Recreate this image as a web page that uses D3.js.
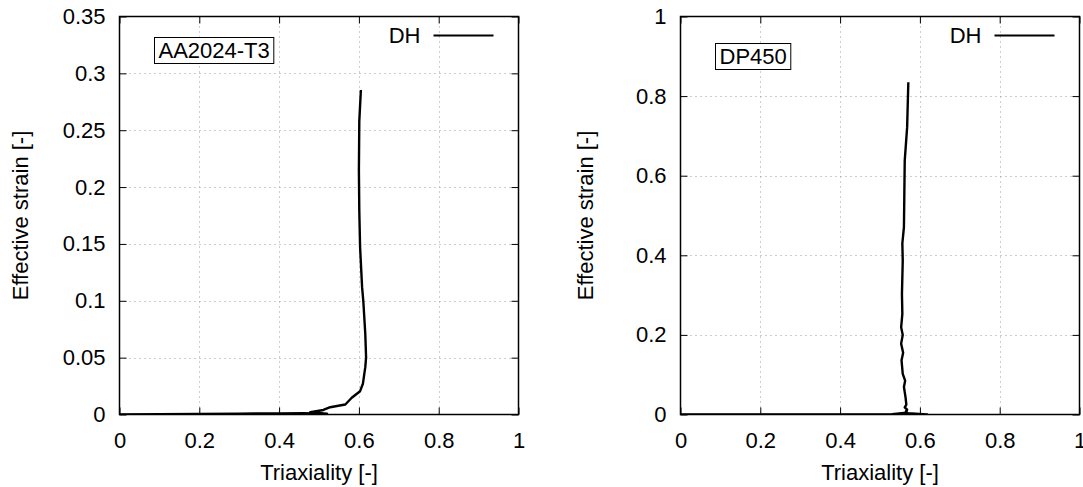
<!DOCTYPE html>
<html><head><meta charset="utf-8">
<script src="https://cdn.jsdelivr.net/npm/d3@7"></script>
<style>body{margin:0;background:#fff}text{font-family:"Liberation Sans",Arial,Helvetica,sans-serif;fill:#000}</style>
</head><body><svg id="c" width="1083" height="487"></svg>
<script>
// ---- data ----
const xTicks = [0, 0.2, 0.4, 0.6, 0.8, 1];
const yTicksA = [0, 0.05, 0.1, 0.15, 0.2, 0.25, 0.3, 0.35];
const yTicksB = [0, 0.2, 0.4, 0.6, 0.8, 1];
const xLabels = ["0", "0.2", "0.4", "0.6", "0.8", "1"];
const yLabelsA = ["0", "0.05", "0.1", "0.15", "0.2", "0.25", "0.3", "0.35"];
const yLabelsB = ["0", "0.2", "0.4", "0.6", "0.8", "1"];
const seriesName = "DH";
const materialA = "AA2024-T3";
const materialB = "DP450";
// triaxiality, effective strain
const triaxA = [0, 0.1, 0.2, 0.3, 0.4, 0.46, 0.52, 0.49, 0.478, 0.511, 0.528, 0.545, 0.566, 0.582, 0.603, 0.610, 0.616, 0.618, 0.616, 0.611, 0.608, 0.603, 0.601, 0.600, 0.601, 0.605];
const strainA = [0, 0.0003, 0.0005, 0.0008, 0.001, 0.0012, 0.0008, 0.0015, 0.002, 0.004, 0.0064, 0.0075, 0.0088, 0.0147, 0.0205, 0.027, 0.0416, 0.05, 0.071, 0.1, 0.112, 0.147, 0.179, 0.2145, 0.258, 0.2854];
const triaxB = [0, 0.2, 0.4, 0.53, 0.56, 0.6, 0.618, 0.57, 0.565, 0.568, 0.562, 0.566, 0.564, 0.560, 0.563, 0.557, 0.554, 0.558, 0.553, 0.557, 0.553, 0.556, 0.555, 0.557, 0.556, 0.560, 0.561, 0.562, 0.565, 0.568, 0.571];
const strainB = [0, 0, 0, 0.001, 0.004, 0.001, 0, 0.003, 0.008, 0.012, 0.018, 0.025, 0.043, 0.069, 0.085, 0.102, 0.136, 0.155, 0.178, 0.2, 0.219, 0.253, 0.303, 0.387, 0.43, 0.471, 0.555, 0.638, 0.68, 0.722, 0.835];

const svg = d3.select("#c");
const FS = 22;

function panel(o) {
  const g = svg.append("g");
  const x = d3.scaleLinear().domain([0, 1]).range([o.left, o.right]);
  const y = d3.scaleLinear().domain([0, o.ymax]).range([o.bottom, o.top]);
  const clipId = "clip" + o.id;
  g.append("clipPath").attr("id", clipId).append("rect")
    .attr("x", o.left).attr("y", o.top).attr("width", o.right - o.left).attr("height", o.bottom - o.top);
  // grid
  const grid = g.append("g").attr("stroke", "#9a9a9a").attr("stroke-width", 1).attr("stroke-dasharray", "1,4");
  grid.selectAll("line.gx").data(xTicks.slice(1, -1)).join("line")
    .attr("x1", d => Math.round(x(d)) + 0.5).attr("x2", d => Math.round(x(d)) + 0.5)
    .attr("y1", o.top).attr("y2", o.bottom);
  grid.selectAll("line.gy").data(o.yTicks.slice(1, -1)).join("line")
    .attr("y1", d => Math.round(y(d)) + 0.5).attr("y2", d => Math.round(y(d)) + 0.5)
    .attr("x1", o.left).attr("x2", o.right);
  // axes via d3 axis (ticks inward)
  const tl = 7;
  g.append("g").attr("transform", `translate(0,${o.bottom})`)
    .call(d3.axisBottom(x).tickValues(xTicks).tickSize(-tl).tickPadding(18).tickFormat((d, i) => xLabels[i]))
    .call(a => a.select(".domain").remove())
    .call(a => a.selectAll("text").attr("font-size", FS).attr("font-family", "Liberation Sans, Arial"))
    .call(a => a.selectAll("line").attr("stroke", "#000"));
  g.append("g").attr("transform", `translate(0,${o.top})`)
    .call(d3.axisTop(x).tickValues(xTicks).tickSize(-tl).tickFormat(""))
    .call(a => a.select(".domain").remove())
    .call(a => a.selectAll("line").attr("stroke", "#000"));
  g.append("g").attr("transform", `translate(${o.left},0)`)
    .call(d3.axisLeft(y).tickValues(o.yTicks).tickSize(-tl).tickPadding(14).tickFormat((d, i) => o.yLabels[i]))
    .call(a => a.select(".domain").remove())
    .call(a => a.selectAll("text").attr("font-size", FS).attr("font-family", "Liberation Sans, Arial"))
    .call(a => a.selectAll("line").attr("stroke", "#000"));
  g.append("g").attr("transform", `translate(${o.right},0)`)
    .call(d3.axisRight(y).tickValues(o.yTicks).tickSize(-tl).tickFormat(""))
    .call(a => a.select(".domain").remove())
    .call(a => a.selectAll("line").attr("stroke", "#000"));
  // border
  g.append("rect").attr("x", o.left).attr("y", o.top).attr("width", o.right - o.left).attr("height", o.bottom - o.top)
    .attr("fill", "none").attr("stroke", "#000").attr("stroke-width", 1.5);
  // data line
  const pts = o.xs.map((v, i) => [v, o.ys[i]]);
  g.append("path").datum(pts).attr("clip-path", `url(#${clipId})`)
    .attr("d", d3.line().x(d => x(d[0])).y(d => y(d[1])))
    .attr("fill", "none").attr("stroke", "#000").attr("stroke-width", 2.4).attr("stroke-linejoin", "round");
  // legend
  g.append("text").attr("x", o.right - 98).attr("y", 35).attr("dy", "0.35em").attr("text-anchor", "end")
    .attr("font-size", FS).text(seriesName);
  g.append("line").attr("x1", o.right - 85).attr("x2", o.right - 25).attr("y1", 35.5).attr("y2", 35.5)
    .attr("stroke", "#000").attr("stroke-width", 2);
  // material label box
  const box = g.append("rect");
  const t = g.append("text").attr("x", o.boxX + 4).attr("y", o.boxY + 13).attr("dy", "0.35em")
    .attr("font-size", FS).text(o.material);
  const bb = t.node().getBBox();
  box.attr("x", o.boxX).attr("y", o.boxY)
    .attr("width", bb.width + 8).attr("height", 26).attr("fill", "#fff").attr("stroke", "#000").attr("stroke-width", 1);
  // axis titles
  g.append("text").attr("x", (o.left + o.right) / 2).attr("y", 472).attr("dy", "0.35em").attr("text-anchor", "middle")
    .attr("font-size", FS).text("Triaxiality [-]");
  g.append("text").attr("transform", `translate(${o.ytx},${(o.top + o.bottom) / 2}) rotate(-90)`)
    .attr("dy", "0.35em").attr("text-anchor", "middle").attr("font-size", FS).text("Effective strain [-]");
}

panel({id: "A", left: 119.5, right: 518.5, top: 16.5, bottom: 414.5, ymax: 0.35, yTicks: yTicksA, yLabels: yLabelsA,
  xs: triaxA, ys: strainA, material: materialA, boxX: 154.5, boxY: 37.5, ytx: 20});
panel({id: "B", left: 680.5, right: 1079.5, top: 16.5, bottom: 414.5, ymax: 1, yTicks: yTicksB, yLabels: yLabelsB,
  xs: triaxB, ys: strainB, material: materialB, boxX: 715.5, boxY: 43.5, ytx: 585});
</script></body></html>
